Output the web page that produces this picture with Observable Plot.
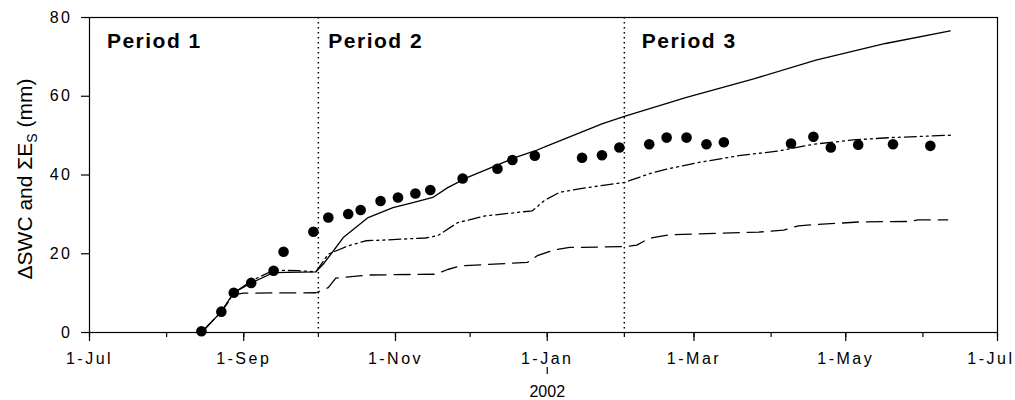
<!DOCTYPE html>
<html>
<head>
<meta charset="utf-8">
<script src="https://cdn.jsdelivr.net/npm/d3@7"></script>
<script src="https://cdn.jsdelivr.net/npm/@observablehq/plot@0.6"></script>
<style>
  html, body { margin: 0; padding: 0; background: #fff; }
  #chart { width: 1015px; height: 400px; }
  #chart g[aria-label="x-axis tick label"] text,
  #chart g[aria-label="y-axis tick label"] text { letter-spacing: 2.5px; }
</style>
</head>
<body>
<div id="chart"></div>
<script>
// ---- Data ----
const obsDates = ["2001-08-15","2001-08-23","2001-08-28","2001-09-04","2001-09-13","2001-09-17","2001-09-29",
  "2001-10-05","2001-10-13","2001-10-18","2001-10-26","2001-11-02","2001-11-09","2001-11-15","2001-11-28",
  "2001-12-12","2001-12-18","2001-12-27","2002-01-15","2002-01-23","2002-01-30","2002-02-11","2002-02-18",
  "2002-02-26","2002-03-06","2002-03-13","2002-04-09","2002-04-18","2002-04-25","2002-05-06","2002-05-20","2002-06-04"];
const obsValues = [0.3, 5.3, 10.1, 12.6, 15.7, 20.5, 25.6,
  29.2, 30.1, 31.1, 33.4, 34.3, 35.3, 36.2, 39.1,
  41.6, 43.8, 44.9, 44.4, 45.0, 47.0, 47.8, 49.5,
  49.5, 47.8, 48.3, 48.0, 49.7, 47.0, 47.7, 47.8, 47.4];

const solidDates = ["2001-08-15","2001-08-23","2001-08-28","2001-09-04","2001-09-13","2001-09-30","2001-10-03",
  "2001-10-07","2001-10-11","2001-10-21","2001-10-31","2001-11-08","2001-11-16","2001-11-22","2001-11-30",
  "2001-12-08","2001-12-19","2001-12-27","2002-01-01","2002-01-23","2002-02-01","2002-02-26","2002-03-25",
  "2002-04-19","2002-05-17","2002-06-12"];
const solidValues = [0, 5.3, 10.1, 12.6, 15.2, 15.4, 17.4,
  20.7, 24.1, 29.2, 31.7, 33.0, 34.3, 36.8, 39.4,
  41.5, 44.4, 46.1, 47.4, 53.0, 54.9, 59.7, 64.4,
  69.2, 73.4, 76.6];

const dashDotDates = ["2001-08-15","2001-08-23","2001-08-28","2001-09-04","2001-09-13","2001-09-23","2001-09-30",
  "2001-10-05","2001-10-13","2001-10-20","2001-10-28","2001-11-13","2001-11-18","2001-11-26","2001-12-07",
  "2001-12-20","2001-12-26","2001-12-31","2002-01-06","2002-01-15","2002-01-27","2002-02-01","2002-02-11",
  "2002-02-18","2002-03-03","2002-03-19","2002-04-04","2002-04-18","2002-05-04","2002-05-19","2002-06-12"];
const dashDotValues = [0, 5.3, 10.0, 13.1, 15.8, 15.7, 15.4,
  19.9, 22.0, 23.3, 23.5, 24.0, 24.6, 27.9, 29.6,
  30.5, 30.9, 33.6, 35.6, 36.6, 37.7, 38.1, 40.3,
  41.5, 43.2, 44.9, 46.1, 47.8, 48.9, 49.5, 50.1];

const dashedDates = ["2001-08-15","2001-08-23","2001-08-28","2001-09-01","2001-09-30","2001-10-05","2001-10-08",
  "2001-10-21","2001-11-17","2001-11-22","2001-11-27","2001-12-24","2001-12-28","2002-01-04","2002-01-10",
  "2002-02-01","2002-02-06","2002-02-11","2002-02-19","2002-03-11","2002-03-27","2002-04-06","2002-04-12",
  "2002-04-19","2002-05-07","2002-05-27","2002-05-30","2002-06-11"];
const dashedValues = [0, 5.3, 9.6, 10.0, 10.1, 11.4, 13.8,
  14.6, 14.8, 16.0, 16.9, 17.8, 19.5, 21.0, 21.6,
  21.8, 22.2, 23.9, 24.8, 25.2, 25.5, 26.0, 27.1,
  27.4, 28.1, 28.2, 28.6, 28.6];

const periodDividers = ["2001-10-01", "2002-02-01"];
const periodLabels = ["Period 1", "Period 2", "Period 3"];
const periodLabelDates = ["2001-07-08", "2001-10-05", "2002-02-08"];

const yTicks = [0, 20, 40, 60, 80];
const xDomain = ["2001-07-01", "2002-07-01"];
const xMinorTicks = ["2001-07-01","2001-08-01","2001-09-01","2001-10-01","2001-11-01","2001-12-01",
  "2002-01-01","2002-02-01","2002-03-01","2002-04-01","2002-05-01","2002-06-01","2002-07-01"];
const xMajorTicks = ["2001-07-01","2001-09-01","2001-11-01","2002-01-01","2002-03-01","2002-05-01","2002-07-01"];
const xTickLabels = ["1-Jul","1-Sep","1-Nov","1-Jan","1-Mar","1-May","1-Jul"];
const yearLabel = "2002";
const yearDate = "2002-01-01";

// ---- Build ----
const parse = s => new Date(s + "T00:00:00Z");
const series = (dates, values) => dates.map((d, i) => ({date: parse(d), value: values[i]}));
const obs = series(obsDates, obsValues);
const solid = series(solidDates, solidValues);
const dashDot = series(dashDotDates, dashDotValues);
const dashed = series(dashedDates, dashedValues);
const labelMap = new Map(xMajorTicks.map((d, i) => [+parse(d), xTickLabels[i]]));
const labels = periodLabels.map((t, i) => ({text: t, date: parse(periodLabelDates[i])}));

const plot = Plot.plot({
  width: 1015,
  height: 400,
  marginLeft: 89,
  marginRight: 18,
  marginTop: 17,
  marginBottom: 68,
  x: {type: "utc", domain: xDomain.map(parse)},
  y: {domain: [0, 80]},
  style: {fontFamily: "'Liberation Sans', Arial, sans-serif", fontSize: "16px", color: "#000", background: "#fff"},
  marks: [
    Plot.frame({stroke: "#000", strokeWidth: 1.2}),
    Plot.axisY({ticks: yTicks, tickSize: 8, tickPadding: 9, label: null, strokeWidth: 1.2}),
    Plot.axisX({ticks: xMinorTicks.map(parse), tickSize: 5, tickFormat: () => "", label: null, strokeWidth: 1.2}),
    Plot.axisX({ticks: xMajorTicks.map(parse), tickSize: 9, tickPadding: 11, tickFormat: d => labelMap.get(+d), label: null, strokeWidth: 1.2}),
    Plot.ruleX(periodDividers.map(parse), {stroke: "#000", strokeWidth: 1.5, strokeDasharray: "1.5,3.5"}),
    Plot.line(solid, {x: "date", y: "value", stroke: "#000", strokeWidth: 1.3}),
    Plot.line(dashDot, {x: "date", y: "value", stroke: "#000", strokeWidth: 1.3, strokeDasharray: "12,4,2,4,2,4"}),
    Plot.line(dashed, {x: "date", y: "value", stroke: "#000", strokeWidth: 1.3, strokeDasharray: "16,8"}),
    Plot.dot(obs, {x: "date", y: "value", r: 5.3, fill: "#000", stroke: "none"}),
    Plot.text(labels, {x: "date", text: "text", frameAnchor: "top", lineAnchor: "top", dy: 16,
      textAnchor: "start", fontWeight: "bold", fontSize: 21}),
    Plot.ruleX([parse(yearDate)], {stroke: "#000", strokeWidth: 1.2, insetTop: 308, dy: 42}),
    Plot.text([yearLabel], {x: () => parse(yearDate), text: d => d, frameAnchor: "bottom", lineAnchor: "top", dy: 53, fontSize: 16})
  ]
});

// Period labels letter spacing
d3.select(plot).selectAll('g[aria-label="text"] text').filter(function() { return /Period/.test(this.textContent); })
  .style("letter-spacing", "1.5px");

// Keep the last x tick label inside the picture, as in the reference
const xl = d3.select(plot).selectAll('g[aria-label="x-axis tick label"] text').filter(function() { return this.textContent === "1-Jul"; }).nodes();
if (xl.length) d3.select(xl[xl.length - 1]).attr("text-anchor", "end").attr("dx", 17);

// Y-axis title with subscript
const title = d3.select(plot).append("text")
  .attr("transform", "translate(32,179) rotate(-90)")
  .attr("text-anchor", "middle")
  .attr("font-family", "'Liberation Sans', Arial, sans-serif")
  .attr("font-size", 21)
  .attr("fill", "#000");
title.append("tspan").text("ΔSWC and ΣE");
title.append("tspan").attr("font-size", 14).attr("dy", 5).text("S");
title.append("tspan").attr("dy", -5).text(" (mm)");

document.getElementById("chart").appendChild(plot);
</script>
</body>
</html>
